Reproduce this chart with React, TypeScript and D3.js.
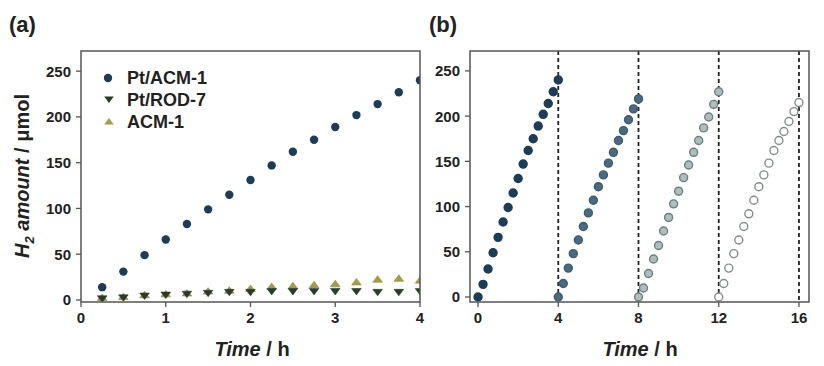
import React from "react";
import * as d3 from "d3";

const timeA = [0.25, 0.5, 0.75, 1, 1.25, 1.5, 1.75, 2, 2.25, 2.5, 2.75, 3, 3.25, 3.5, 3.75, 4];
const ptAcm1 = [14, 31, 49, 66, 83, 99, 115, 131, 147, 162, 175, 189, 202, 214, 227, 240];
const ptRod7 = [2, 3, 5, 6, 7, 8, 9, 9, 10, 10, 10, 10, 10, 9, 9, 10];
const acm1 = [2, 3, 5, 6, 7, 9, 10, 12, 14, 15, 16, 17, 19, 22, 23, 21];

const cycleTime = [0, 0.25, 0.5, 0.75, 1, 1.25, 1.5, 1.75, 2, 2.25, 2.5, 2.75, 3, 3.25, 3.5, 3.75, 4];
const cycle1 = [0, 14, 31, 49, 66, 83, 99, 115, 131, 147, 162, 175, 189, 202, 214, 227, 240];
const cycle2 = [0, 15, 32, 48, 63, 78, 93, 107, 122, 135, 148, 160, 173, 184, 196, 208, 219];
const cycle3 = [0, 10, 26, 42, 57, 73, 88, 103, 117, 132, 146, 160, 173, 187, 199, 213, 227];
const cycle4 = [0, 15, 32, 48, 63, 78, 92, 107, 122, 135, 148, 162, 173, 183, 194, 205, 215];
const cycleStarts = [0, 4, 8, 12];

const yTicks = [0, 50, 100, 150, 200, 250];
const xTicksA = [0, 1, 2, 3, 4];
const xTicksB = [0, 4, 8, 12, 16];
const legendNames = ["Pt/ACM-1", "Pt/ROD-7", "ACM-1"];

const FONT = "Liberation Sans, Arial, sans-serif";
const FRAME = "#555";

const cycleStyles = [
  { fill: "#1d3c55", stroke: "#1d3c55" },
  { fill: "#4b6a80", stroke: "#3f5b70" },
  { fill: "#aebdbd", stroke: "#6a8080" },
  { fill: "#ffffff", stroke: "#858c8c" },
];

function tri(x: number, y: number, s: number, down: boolean) {
  const h = s * 0.9;
  return down
    ? `M${x - s},${y - h * 0.55}L${x + s},${y - h * 0.55}L${x},${y + h * 0.95}Z`
    : `M${x - s},${y + h * 0.55}L${x + s},${y + h * 0.55}L${x},${y - h * 0.95}Z`;
}

export default function App() {
  const top = 51, bottom = 302;
  const xA = d3.scaleLinear().domain([0, 4]).range([81, 420]);
  const yA = d3.scaleLinear().domain([-2.2, 272]).range([bottom, top]);
  const xB = d3.scaleLinear().domain([-0.4, 16.5]).range([470, 809]);
  const yB = d3.scaleLinear().domain([-5.5, 272]).range([bottom, top]);
  const cycles = [cycle1, cycle2, cycle3, cycle4];

  const yAxis = (x0: number, y: d3.ScaleLinear<number, number>) =>
    yTicks.map((t) => (
      <g key={t}>
        <line x1={x0 - 5} x2={x0} y1={y(t)} y2={y(t)} stroke={FRAME} strokeWidth={1.3} />
        <text x={x0 - 10} y={y(t)} dy="0.36em" textAnchor="end" fontSize={15} fontWeight="bold" fill="#222">
          {t}
        </text>
      </g>
    ));

  const xAxis = (ticks: number[], x: d3.ScaleLinear<number, number>) =>
    ticks.map((t) => (
      <g key={t}>
        <line x1={x(t)} x2={x(t)} y1={bottom} y2={bottom + 5} stroke={FRAME} strokeWidth={1.3} />
        <text x={x(t)} y={bottom + 21} textAnchor="middle" fontSize={15} fontWeight="bold" fill="#222">
          {t}
        </text>
      </g>
    ));

  const xTitle = (cx: number) => (
    <text x={cx} y={356} textAnchor="middle" fontSize={20} fontWeight="bold" fill="#222">
      <tspan fontStyle="italic">Time</tspan>
      <tspan> / h</tspan>
    </text>
  );

  return (
    <svg width={824} height={366} style={{ position: "absolute", left: 0, top: 0, fontFamily: FONT }}>
      <rect width={824} height={366} fill="#fff" />
      <defs>
        <clipPath id="clipA">
          <rect x={81} y={top} width={339} height={bottom - top} />
        </clipPath>
        <clipPath id="clipB">
          <rect x={470} y={top} width={339} height={bottom - top} />
        </clipPath>
      </defs>

      {/* panel labels */}
      <text x={9} y={32} fontSize={22} fontWeight="bold" fill="#222">(a)</text>
      <text x={429} y={32} fontSize={22} fontWeight="bold" fill="#222">(b)</text>

      {/* Panel A */}
      <g clipPath="url(#clipA)">
        {timeA.map((t, i) => (
          <path key={"a" + i} d={tri(xA(t), yA(acm1[i]), 4.8, false)} fill="#a59c48" stroke="#8a8436" strokeWidth={0.6} />
        ))}
        {timeA.map((t, i) => (
          <path key={"r" + i} d={tri(xA(t), yA(ptRod7[i]), 4.8, true)} fill="#2c3a2c" stroke="#2c3a2c" strokeWidth={0.6} />
        ))}
        {timeA.map((t, i) => (
          <circle key={"p" + i} cx={xA(t)} cy={yA(ptAcm1[i])} r={4.2} fill="#1d3c55" />
        ))}
      </g>
      <rect x={81} y={top} width={339} height={bottom - top} fill="none" stroke={FRAME} strokeWidth={1.5} />
      {yAxis(81, yA)}
      {xAxis(xTicksA, xA)}
      {xTitle(252)}
      <text transform={`translate(29,176) rotate(-90)`} textAnchor="middle" fontSize={20} fontWeight="bold" fill="#222">
        <tspan fontStyle="italic">H</tspan>
        <tspan fontSize={13} dy={5} fontStyle="italic">2</tspan>
        <tspan dy={-5} fontStyle="italic"> amount</tspan>
        <tspan> / μmol</tspan>
      </text>

      {/* Legend */}
      <circle cx={108} cy={78} r={4.2} fill="#1d3c55" />
      <path d={tri(109, 99, 4.8, true)} fill="#2c3a2c" />
      <path d={tri(109, 122, 4.8, false)} fill="#a59c48" />
      {legendNames.map((n, i) => (
        <text key={n} x={127} y={78 + i * 22} dy="0.36em" fontSize={18} fontWeight="bold" fill="#222">
          {n}
        </text>
      ))}

      {/* Panel B */}
      <g clipPath="url(#clipB)">
        {cycleStarts.slice(1).concat([16]).map((s) => (
          <line key={"d" + s} x1={xB(s)} x2={xB(s)} y1={top} y2={bottom} stroke="#222" strokeWidth={1.8} strokeDasharray="4,3" />
        ))}
        {cycles.map((c, ci) =>
          c.map((v, i) => (
            <circle
              key={ci + "-" + i}
              cx={xB(cycleStarts[ci] + cycleTime[i])}
              cy={yB(v)}
              r={4}
              fill={cycleStyles[ci].fill}
              stroke={cycleStyles[ci].stroke}
              strokeWidth={1.4}
            />
          ))
        )}
      </g>
      <rect x={470} y={top} width={339} height={bottom - top} fill="none" stroke={FRAME} strokeWidth={1.5} />
      {yAxis(470, yB)}
      {xAxis(xTicksB, xB)}
      {xTitle(640)}
    </svg>
  );
}
